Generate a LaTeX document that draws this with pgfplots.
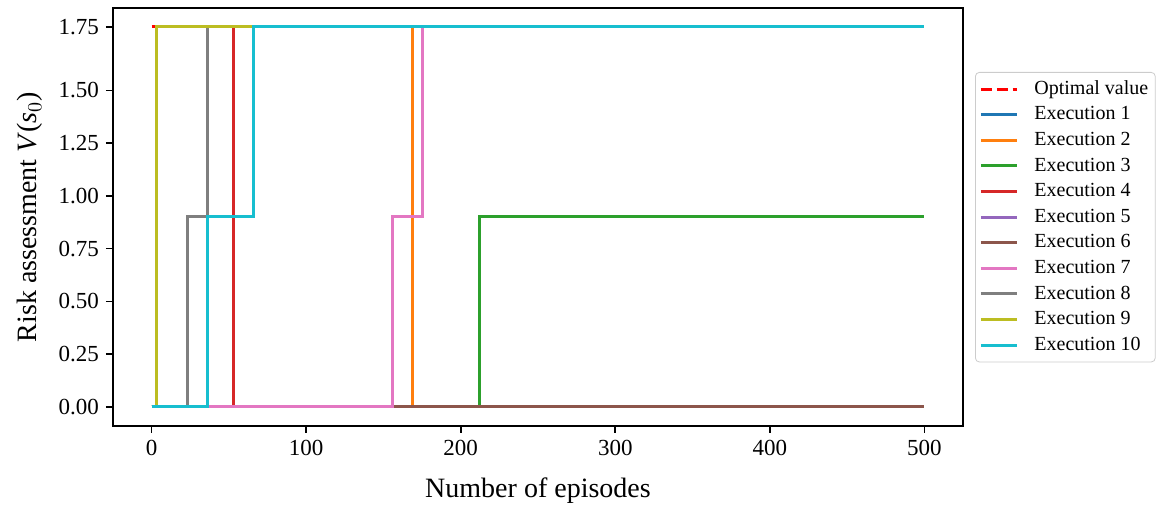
\documentclass[border=0pt]{standalone}
\usepackage{fontspec}
\setmainfont{Liberation Serif}
\usepackage{pgfplots}
\pgfplotsset{compat=1.18}
\definecolor{C0}{HTML}{1F77B4}
\definecolor{C1}{HTML}{FF7F0E}
\definecolor{C2}{HTML}{2CA02C}
\definecolor{C3}{HTML}{D62728}
\definecolor{C4}{HTML}{9467BD}
\definecolor{C5}{HTML}{8C564B}
\definecolor{C6}{HTML}{E377C2}
\definecolor{C7}{HTML}{7F7F7F}
\definecolor{C8}{HTML}{BCBD22}
\definecolor{C9}{HTML}{17BECF}
\begin{document}
\begin{tikzpicture}
\useasboundingbox (-56.5pt,-40pt) rectangle (524.5pt,213pt);
\begin{axis}[
  at={(0,0)}, anchor=south west,
  scale only axis, width=425pt, height=209pt,
  xmin=-25, xmax=525, ymin=-0.09, ymax=1.89,
  xtick={0,100,200,300,400,500},
  ytick={0,0.25,0.5,0.75,1,1.25,1.5,1.8},
  yticklabels={0.00,0.25,0.50,0.75,1.00,1.25,1.50,1.75},
  /pgf/number format/assume math mode=true,
  tick align=outside, tick pos=left,
  major tick length=3.5pt,
  every tick/.style={black, line width=0.8pt},
  axis line style={line width=0.8pt},
  ticklabel style={font=\fontsize{11.5}{13}\selectfont},
  xlabel={Number of episodes},
  ylabel={Risk assessment \textit{V}(\textit{s}$_0$)},
  label style={font=\fontsize{14}{16}\selectfont},
  xlabel style={yshift=-4pt},
  ylabel style={yshift=1pt},
  legend cell align=left,
  legend style={at={(rel axis cs:1,1)}, anchor=north west, xshift=6pt, yshift=-32pt,
    draw=black!20, rounded corners=2pt, font=\fontsize{10}{12}\selectfont,
    row sep=0pt, inner sep=2pt,
    nodes={inner sep=1.5pt, text height=7.5pt, text depth=2.3pt},
    /tikz/every odd column/.append style={column sep=6.5pt}},
  legend image code/.code={\draw[#1] (0pt,0pt) -- (18pt,0pt);},
  every axis plot/.append style={line width=1.5pt, const plot},
]
\addplot[red, dashed, dash pattern=on 5.55pt off 2.4pt, no marks] coordinates {(0,1.8) (500,1.8)};
\addlegendentry{Optimal value}
\addplot[C0, no marks] coordinates {(0,0) (500,0)};
\addlegendentry{Execution 1}
\addplot[C1, no marks] coordinates {(0,0) (169,1.8) (500,1.8)};
\addlegendentry{Execution 2}
\addplot[C2, no marks] coordinates {(0,0) (212,0.9) (500,0.9)};
\addlegendentry{Execution 3}
\addplot[C3, no marks] coordinates {(0,0) (53,1.8) (500,1.8)};
\addlegendentry{Execution 4}
\addplot[C4, no marks] coordinates {(0,0) (500,0)};
\addlegendentry{Execution 5}
\addplot[C5, no marks] coordinates {(0,0) (500,0)};
\addlegendentry{Execution 6}
\addplot[C6, no marks] coordinates {(0,0) (156,0.9) (175,1.8) (500,1.8)};
\addlegendentry{Execution 7}
\addplot[C7, no marks] coordinates {(0,0) (23,0.9) (36,1.8) (500,1.8)};
\addlegendentry{Execution 8}
\addplot[C8, no marks] coordinates {(0,0) (3,1.8) (500,1.8)};
\addlegendentry{Execution 9}
\addplot[C9, no marks] coordinates {(0,0) (36,0.9) (66,1.8) (500,1.8)};
\addlegendentry{Execution 10}
\end{axis}
\end{tikzpicture}
\end{document}
